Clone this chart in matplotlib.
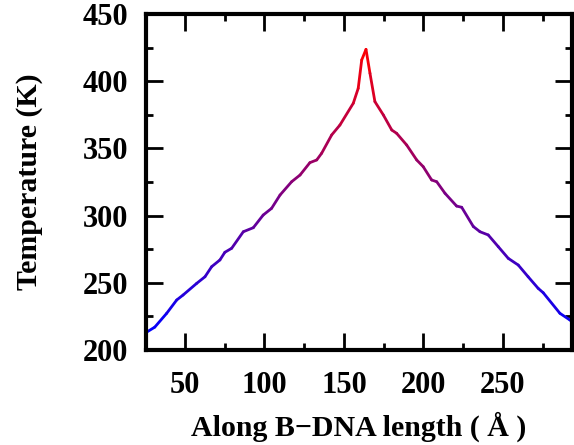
import numpy as np
import matplotlib
matplotlib.use('Agg')
import matplotlib.pyplot as plt
from matplotlib.collections import LineCollection
from matplotlib.colors import LinearSegmentedColormap
from matplotlib.ticker import MultipleLocator

# position along DNA (Angstrom) and temperature (K)
pos = [26.3, 31.0, 38.5, 44.8, 48.8, 57.4, 62.6, 66.8, 72.0, 75.1, 79.4, 86.7, 93.0,
       99.2, 104.5, 109.8, 117.1, 122.4, 128.6, 132.9, 136.0, 142.3, 147.5, 155.9,
       159.0, 161.2, 163.9, 166.4, 169.5, 174.8, 180.1, 183.2, 189.5, 195.8, 199.9,
       205.2, 208.4, 213.6, 220.9, 224.1, 231.4, 235.6, 240.8, 247.1, 253.4, 259.7,
       265.9, 272.2, 275.4, 285.9, 292.2, 293.5]
temp = [213.6, 217.0, 227.3, 237.2, 240.9, 249.6, 254.5, 262.0, 267.0, 272.7, 275.7,
        288.0, 291.0, 300.4, 305.4, 315.3, 325.2, 330.2, 339.4, 341.4, 346.4, 360.0,
        367.4, 383.6, 394.7, 415.8, 423.7, 405.9, 384.8, 374.9, 363.7, 361.2, 352.5,
        341.4, 336.4, 326.5, 325.2, 316.6, 307.1, 306.2, 291.9, 288.0, 285.6, 276.9,
        268.2, 263.2, 254.5, 245.9, 242.6, 227.3, 222.3, 221.5]

plt.rcParams['font.family'] = ['Liberation Serif', 'DejaVu Serif']
plt.rcParams['font.weight'] = 'bold'

fig = plt.figure(figsize=(5.74, 4.45), dpi=100)
ax = fig.add_axes([0.2544, 0.2135, 0.7421, 0.755])

x = np.array(pos)
y = np.array(temp)
pts = np.column_stack([x, y]).reshape(-1, 1, 2)
segs = np.concatenate([pts[:-1], pts[1:]], axis=1)
cmap = LinearSegmentedColormap.from_list('br', ['#0000ff', '#ff0000'])
lc = LineCollection(segs, cmap=cmap, linewidth=2.0, capstyle='round', joinstyle='round')
lc.set_array((y[:-1] + y[1:]) / 2)
lc.set_clim(min(temp), max(temp))
ax.add_collection(lc)

ax.set_xlim(25.5, 293.5)
ax.set_ylim(200, 450)
ax.xaxis.set_major_locator(MultipleLocator(50))
ax.xaxis.set_minor_locator(MultipleLocator(25))
ax.yaxis.set_major_locator(MultipleLocator(50))
ax.yaxis.set_minor_locator(MultipleLocator(25))
ax.tick_params(which='both', direction='in', top=True, right=True, width=2)
ax.tick_params(which='major', length=12, labelsize=22)
ax.tick_params(axis='y', which='major', pad=13)
ax.tick_params(axis='x', which='major', pad=15)
ax.tick_params(which='minor', length=5)
for s in ax.spines.values():
    s.set_linewidth(3)

ax.set_xlabel('Along B\u2212DNA length ( \u00c5 )', fontsize=21.5, fontweight='bold', labelpad=8.5)
ax.set_ylabel('Temperature (K)', fontsize=21.5, fontweight='bold', labelpad=28)

fig.savefig('out.png', dpi=100)
